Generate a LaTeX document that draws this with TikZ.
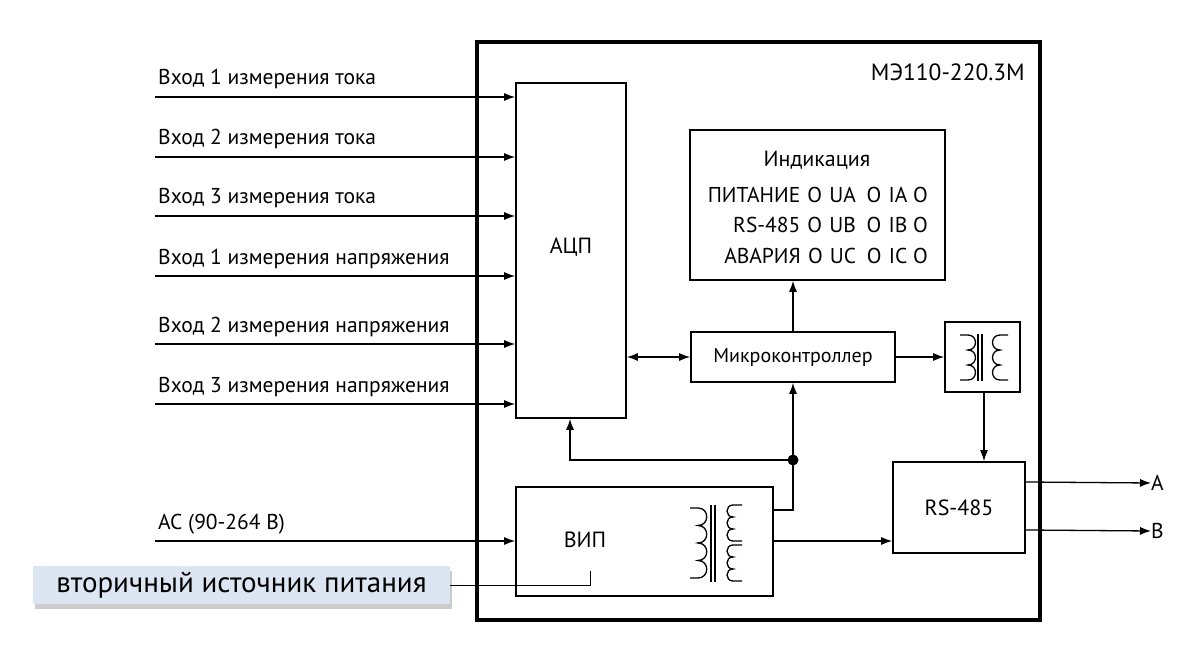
\documentclass[tikz,border=0pt]{standalone}
\usepackage{fontspec}
\setmainfont{PT Sans}
\usetikzlibrary{arrows.meta,shadows}
\newcommand{\bumpR}[1]{.. controls +(1.33*#1,0) and +(1.33*#1,0) .. ++(0,2*#1)}
\newcommand{\bumpL}[1]{.. controls +(-1.33*#1,0) and +(-1.33*#1,0) .. ++(0,2*#1)}
\begin{document}
\begin{tikzpicture}[x=1pt,y=-1pt,
  box/.style={draw,line width=1.6pt,inner sep=0},
  lbl/.style={font=\fontsize{21.5}{23}\selectfont,inner sep=0},
  con/.style={line width=1.3pt,-{Latex[length=11pt,width=8pt]}},
  wire/.style={line width=1.3pt}]
\useasboundingbox (0,0) rectangle (1200,650);
% outer
\node[box,line width=3.5pt,minimum width=563pt,minimum height=578pt] (outer) at (758.5,331) {};
\node[lbl,anchor=east,font=\fontsize{23.5}{25}\selectfont] (title) at (1025,72) {МЭ110-220.3М};
% ADC
\node[box,minimum width=110pt,minimum height=335pt] (adc) at (571,250.5) {};
\node[lbl,font=\fontsize{22}{24}\selectfont] (adct) at (571,247) {АЦП};
% inputs
\foreach \i/\y/\t in {1/97/Вход 1 измерения тока,2/157/Вход 2 измерения тока,3/216/Вход 3 измерения тока,4/276/Вход 1 измерения напряжения,5/344/Вход 2 измерения напряжения,6/404/Вход 3 измерения напряжения}{
  \coordinate (in\i) at (155,\y);
  \node[lbl,anchor=base west] (il\i) at (158,\y-12) {\t};
  \draw[con] (in\i) -- (in\i -| adc.west);
}
% indication
\node[box,minimum width=255pt,minimum height=150pt] (ind) at (817.5,205) {};
\node[lbl,font=\fontsize{22}{24}\selectfont] (indt) at (817,160) {Индикация};
\node[lbl,anchor=east] (r1) at (928,195) {ПИТАНИЕ\,\,O\,\,UA\,\,\,O\,\,IA O};
\node[lbl,anchor=east] (r2) at (928,225) {RS-485\,\,O\,\,UB\,\,\,O\,\,IB O};
\node[lbl,anchor=east] (r3) at (928,256) {АВАРИЯ\,\,O\,\,UC\,\,\,O\,\,IC O};
% microcontroller
\node[box,minimum width=204pt,minimum height=50pt] (mc) at (793,357) {};
\node[lbl,font=\fontsize{20}{22}\selectfont] (mct) at (793,357) {Микроконтроллер};
\draw[con,{Latex[length=11pt,width=8pt]}-{Latex[length=11pt,width=8pt]}] (adc.east |- mc) -- (mc.west);
\draw[con] (mc.north) -- (ind.south -| mc.north);
% small transformer
\node[box,minimum width=75pt,minimum height=70pt] (tr) at (982.5,357) {};
\draw[con] (mc.east) -- (tr.west);
\draw[wire] (960,335) -- (968,335) \bumpR{7.5} \bumpR{7.5} \bumpR{7.5} -- (960,380);
\draw[wire] (978,334) -- (978,381) (982,334) -- (982,381);
\draw[wire] (1008,335) -- (1000,335) \bumpL{7.5} \bumpL{7.5} \bumpL{7.5} -- (1008,380);
% RS-485
\node[box,minimum width=132pt,minimum height=91pt] (rs) at (959,507.5) {};
\node[lbl,font=\fontsize{22}{24}\selectfont] (rst) at (959,508) {RS-485};
\draw[con] (tr.south -| 984,0) -- (rs.north -| 984,0);
\node[lbl,anchor=west] (A) at (1151,483) {A};
\node[lbl,anchor=west] (B) at (1151,531) {B};
\draw[con] (rs.east |- 0,482) -- (A.west);
\draw[con] (rs.east |- 0,530) -- (B.west);
% VIP
\node[box,minimum width=257pt,minimum height=109pt] (vip) at (644.5,541.5) {};
\node[lbl,font=\fontsize{22}{24}\selectfont] (vipt) at (585,540) {ВИП};
\draw[wire] (690,508) -- (698,508) \bumpR{8.75} \bumpR{8.75} \bumpR{8.75} \bumpR{8.75} -- (690,578);
\draw[wire] (711,505) -- (711,582) (715,505) -- (715,582);
\draw[wire] (742,505) -- (733,505) \bumpL{6} \bumpL{6} \bumpL{6} -- (742,541);
\draw[wire] (742,545) -- (733,545) \bumpL{6} \bumpL{6} \bumpL{6} -- (742,581);
\coordinate (dot) at (793,460);
\draw[wire] (vip.east |- 0,510) -- (793,510) -- (dot);
\draw[con] (dot) -- (mc.south);
\draw[con] (dot) -- (570,460) -- (adc.south -| 570,0);
\fill (dot) circle (5.5);
\draw[con] (vip.east |- 0,541) -- (rs.west |- 0,541);
% AC
\coordinate (ac) at (155,541);
\node[lbl,anchor=base west] (acl) at (158,529) {AC (90-264 В)};
\draw[con] (ac) -- (ac -| vip.west);
% callout
\node[draw=none,fill={rgb,255:red,220;green,230;blue,242},minimum width=417pt,minimum height=38pt,inner sep=0,
  drop shadow={shadow xshift=2pt,shadow yshift=-5pt,opacity=0.4}] (call) at (241.5,585) {};
\node[lbl,font=\fontsize{29}{31}\selectfont] (callt) at (241.5,585) {вторичный источник питания};
\draw[wire,line width=1pt] (call.east) -- (590,585) -- (590,571);
\end{tikzpicture}
\end{document}
